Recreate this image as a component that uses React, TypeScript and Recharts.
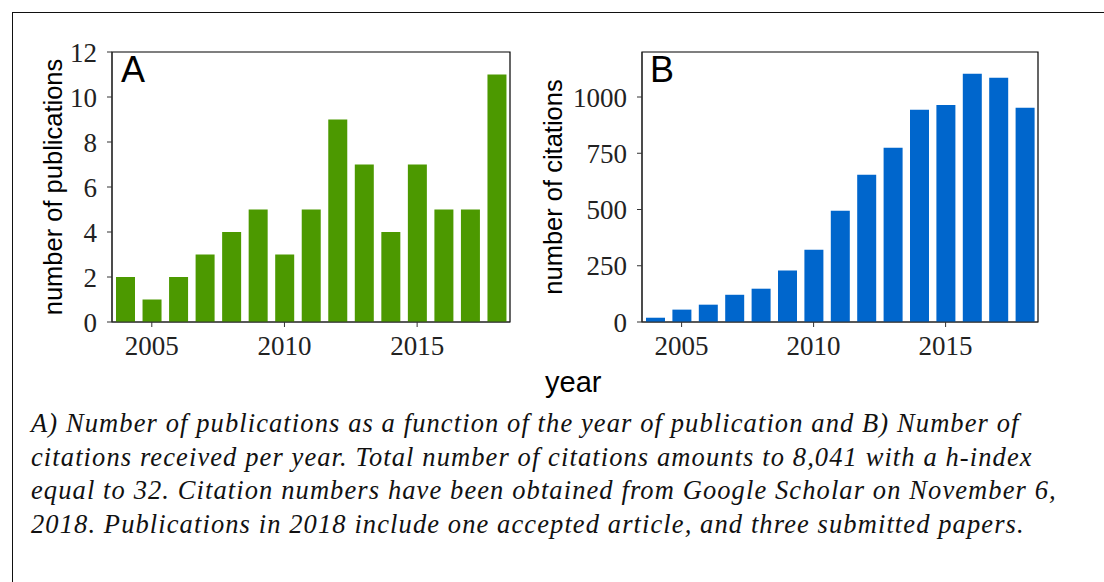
import React from 'react';
import { BarChart, Bar, XAxis, YAxis, ReferenceArea } from 'recharts';

// values
const years = [2004, 2005, 2006, 2007, 2008, 2009, 2010, 2011, 2012, 2013, 2014, 2015, 2016, 2017, 2018];
const publications = [2, 1, 2, 3, 4, 5, 3, 5, 9, 7, 4, 7, 5, 5, 11];
const citations = [19, 55, 77, 121, 148, 229, 321, 495, 655, 775, 943, 965, 1103, 1086, 952];
const yearTicks = [2005, 2010, 2015];
const pubTicks = [0, 2, 4, 6, 8, 10, 12];
const citeTicks = [0, 250, 500, 750, 1000];

const captionLines = [
  'A) Number of publications as a function of the year of publication and B) Number of',
  'citations received per year. Total number of citations amounts to 8,041 with a h-index',
  'equal to 32. Citation numbers have been obtained from Google Scholar on November 6,',
  '2018. Publications in 2018 include one accepted article, and three submitted papers.',
];

const pubData = years.map((year, i) => ({ year, value: publications[i] }));
const citeData = years.map((year, i) => ({ year, value: citations[i] }));
const xDomain = [years[0] - 0.5, years[years.length - 1] + 0.5];

const tickStyle = { fontFamily: '"Liberation Serif", serif', fontSize: 27, fill: '#222' };
const labelStyle = { fontFamily: '"Liberation Sans", Arial, sans-serif', fontSize: 25.5, fill: '#000', textAnchor: 'middle' as const };

type PanelProps = {
  data: { year: number; value: number }[];
  color: string;
  yMax: number;
  yTicks: number[];
  yLabel: string;
  width: number;
  axisWidth: number;
  labelOffset: number;
  rightMargin: number;
};

const Panel = ({ data, color, yMax, yTicks, yLabel, width, axisWidth, labelOffset, rightMargin }: PanelProps) => (
  <BarChart width={width} height={340} data={data} margin={{ top: 22, right: rightMargin, left: 0, bottom: 0 }}>
    <XAxis
      type="number"
      dataKey="year"
      domain={xDomain}
      ticks={yearTicks}
      allowDataOverflow
      height={48}
      tickSize={5}
      tickMargin={9}
      tick={tickStyle}
      stroke="#333"
    />
    <YAxis
      domain={[0, yMax]}
      ticks={yTicks}
      allowDataOverflow
      width={axisWidth}
      tickSize={5}
      tickMargin={10}
      tick={tickStyle}
      stroke="#333"
      label={{ value: yLabel, angle: -90, position: 'insideLeft', offset: labelOffset, style: labelStyle }}
    />
    <ReferenceArea x1={xDomain[0]} x2={xDomain[1]} y1={0} y2={yMax} fill="none" stroke="#000" strokeWidth={1.2} />
    <Bar dataKey="value" fill={color} barSize={19} isAnimationActive={false} />
  </BarChart>
);

export default function App() {
  return (
    <div style={{ position: 'absolute', left: 0, top: 0, width: 1104, height: 582, overflow: 'hidden', background: '#fff' }}>
      <div style={{ position: 'absolute', left: 12, top: 12, width: 1200, height: 700, borderLeft: '1px solid #111', borderTop: '1px solid #111' }} />

      <div style={{ position: 'absolute', left: 40, top: 30 }}>
        <Panel data={pubData} color="#4c9900" yMax={12} yTicks={pubTicks} yLabel="number of publications"
          width={480} axisWidth={72} labelOffset={13} rightMargin={10} />
      </div>
      <div style={{ position: 'absolute', left: 530, top: 30 }}>
        <Panel data={citeData} color="#0066cc" yMax={1200} yTicks={citeTicks} yLabel="number of citations"
          width={520} axisWidth={112} labelOffset={23} rightMargin={12} />
      </div>

      <div style={{ position: 'absolute', left: 121, top: 50, fontFamily: '"Liberation Sans", Arial, sans-serif', fontSize: 36, lineHeight: '40px', color: '#000' }}>A</div>
      <div style={{ position: 'absolute', left: 650, top: 50, fontFamily: '"Liberation Sans", Arial, sans-serif', fontSize: 36, lineHeight: '40px', color: '#000' }}>B</div>

      <div style={{ position: 'absolute', left: 545, top: 366, fontFamily: '"Liberation Sans", Arial, sans-serif', fontSize: 29, lineHeight: '32px', color: '#000' }}>year</div>

      <div style={{ position: 'absolute', left: 31, top: 407, fontFamily: '"Liberation Serif", "Times New Roman", serif', fontStyle: 'italic', fontSize: 26.5, letterSpacing: 1.1, lineHeight: '33.7px', color: '#111', whiteSpace: 'nowrap' }}>
        {captionLines.map((line) => (
          <div key={line}>{line}</div>
        ))}
      </div>
    </div>
  );
}
